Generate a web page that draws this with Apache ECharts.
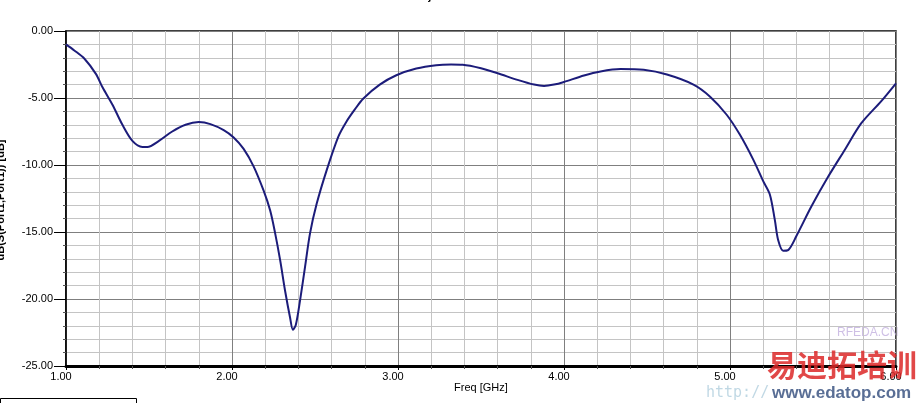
<!DOCTYPE html>
<html>
<head>
<meta charset="utf-8">
<script src="https://cdn.jsdelivr.net/npm/echarts@6/dist/echarts.min.js"></script>
<style>
html,body{margin:0;padding:0;background:#fff;}
#c{width:922px;height:403px;}
</style>
</head>
<body>
<div id="c"></div>
<script>
var freq = [1.00, 1.05, 1.11, 1.18, 1.22, 1.28, 1.34, 1.40, 1.46, 1.49, 1.56, 1.64, 1.72, 1.80, 1.87, 1.95, 2.01, 2.07, 2.13, 2.19, 2.23, 2.26, 2.29, 2.32, 2.35, 2.367, 2.385, 2.41, 2.44, 2.47, 2.51, 2.57, 2.64, 2.69, 2.74, 2.79, 2.89, 2.99, 3.11, 3.23, 3.32, 3.39, 3.50, 3.60, 3.72, 3.82, 3.88, 3.94, 4.00, 4.12, 4.22, 4.34, 4.48, 4.62, 4.78, 4.88, 4.98, 5.06, 5.14, 5.20, 5.24, 5.27, 5.29, 5.32, 5.35, 5.40, 5.49, 5.59, 5.69, 5.79, 5.91, 6.00];
var s11 = [-1.0, -1.45, -2.05, -3.2, -4.2, -5.5, -7.0, -8.2, -8.65, -8.65, -8.2, -7.5, -7.0, -6.8, -6.95, -7.4, -7.95, -8.8, -10.1, -11.9, -13.4, -15.1, -17.1, -19.4, -21.4, -22.3, -21.9, -20.1, -17.6, -15.1, -12.9, -10.4, -7.9, -6.75, -5.85, -5.05, -4.0, -3.3, -2.8, -2.55, -2.5, -2.52, -2.78, -3.15, -3.65, -4.0, -4.1, -4.0, -3.8, -3.32, -3.02, -2.84, -2.9, -3.25, -4.0, -4.9, -6.25, -7.75, -9.6, -11.2, -12.2, -14.1, -15.6, -16.4, -16.35, -15.3, -13.1, -10.9, -8.9, -6.9, -5.25, -3.9];
var titleText = 'Project8';
var xName = 'Freq [GHz]';
var yName = 'dB(S(Port1,Port1)) [dB]';

var data = freq.map(function (f, i) { return [f, s11[i]]; });
var chart = echarts.init(document.getElementById('c'), null, {renderer: 'canvas'});
var font = 'Liberation Sans, Arial, sans-serif';
chart.setOption({
  animation: false,
  backgroundColor: '#ffffff',
  grid: {left: 66, right: 26, top: 31, bottom: 37, show: true, borderColor: '#000', borderWidth: 1.5, backgroundColor: 'transparent'},
  xAxis: {
    type: 'value', min: 1, max: 6, interval: 1,
    axisLine: {show: true, onZero: false, lineStyle: {color: '#000', width: 3}},
    axisTick: {show: true, length: 4, lineStyle: {color: '#000'}},
    minorTick: {show: true, splitNumber: 5, length: 3, lineStyle: {color: '#555'}},
    splitLine: {show: true, lineStyle: {color: '#7f7f7f', width: 1}},
    minorSplitLine: {show: true, lineStyle: {color: '#c4c4c4', width: 1}},
    axisLabel: {color: '#000', fontFamily: font, fontSize: 11, margin: 5, padding: [0, 10, 0, 0],
      formatter: function (v) { return v.toFixed(2); }}
  },
  yAxis: {
    type: 'value', min: -25, max: 0, interval: 5,
    axisLine: {show: true, onZero: false, lineStyle: {color: '#000', width: 1.5}},
    axisTick: {show: true, inside: false, length: 12, lineStyle: {color: '#000'}},
    minorTick: {show: true, splitNumber: 5, length: 3, lineStyle: {color: '#555'}},
    splitLine: {show: true, lineStyle: {color: '#7f7f7f', width: 1}},
    minorSplitLine: {show: true, lineStyle: {color: '#c4c4c4', width: 1}},
    axisLabel: {color: '#000', fontFamily: font, fontSize: 11, margin: 13,
      formatter: function (v) { return v.toFixed(2); }}
  },
  series: [{
    type: 'line', data: data, showSymbol: false, smooth: 0.3,
    lineStyle: {color: '#1c1c7a', width: 2},
    z: 5
  }],
  graphic: [
    {type: 'text', left: 410, top: -9, style: {text: titleText, font: 'bold 11px ' + font, fill: '#000'}},
    {type: 'text', left: 454, top: 382, style: {text: xName, font: '11px ' + font, fill: '#000'}},
    {type: 'text', x: 1, y: 200, rotation: Math.PI / 2, style: {text: yName, font: 'bold 11px ' + font, fill: '#000', align: 'center', verticalAlign: 'middle'}},
    {type: 'rect', shape: {x: 0.5, y: 398.5, width: 136, height: 20}, style: {fill: 'none', stroke: '#000', lineWidth: 1}},
    {type: 'text', left: 837, top: 327, style: {text: 'RFEDA.CN', font: '12px ' + font, fill: 'rgba(190,170,220,0.75)'}},
    {type: 'text', left: 767, top: 350, z: 10, style: {text: '易迪拓培训', font: 'bold 30px "Noto Sans CJK SC", sans-serif', fill: 'rgba(220,40,40,0.85)'}},
    {type: 'text', left: 772, top: 385, z: 10, style: {text: 'www.edatop.com', font: 'bold 17px ' + font, fill: 'rgba(60,85,130,0.85)'}},
    {type: 'text', left: 706, top: 386, z: 9, style: {text: 'http://', font: '15px "DejaVu Sans Mono", monospace', fill: 'rgba(150,190,210,0.6)'}}
  ]
});
</script>
</body>
</html>
